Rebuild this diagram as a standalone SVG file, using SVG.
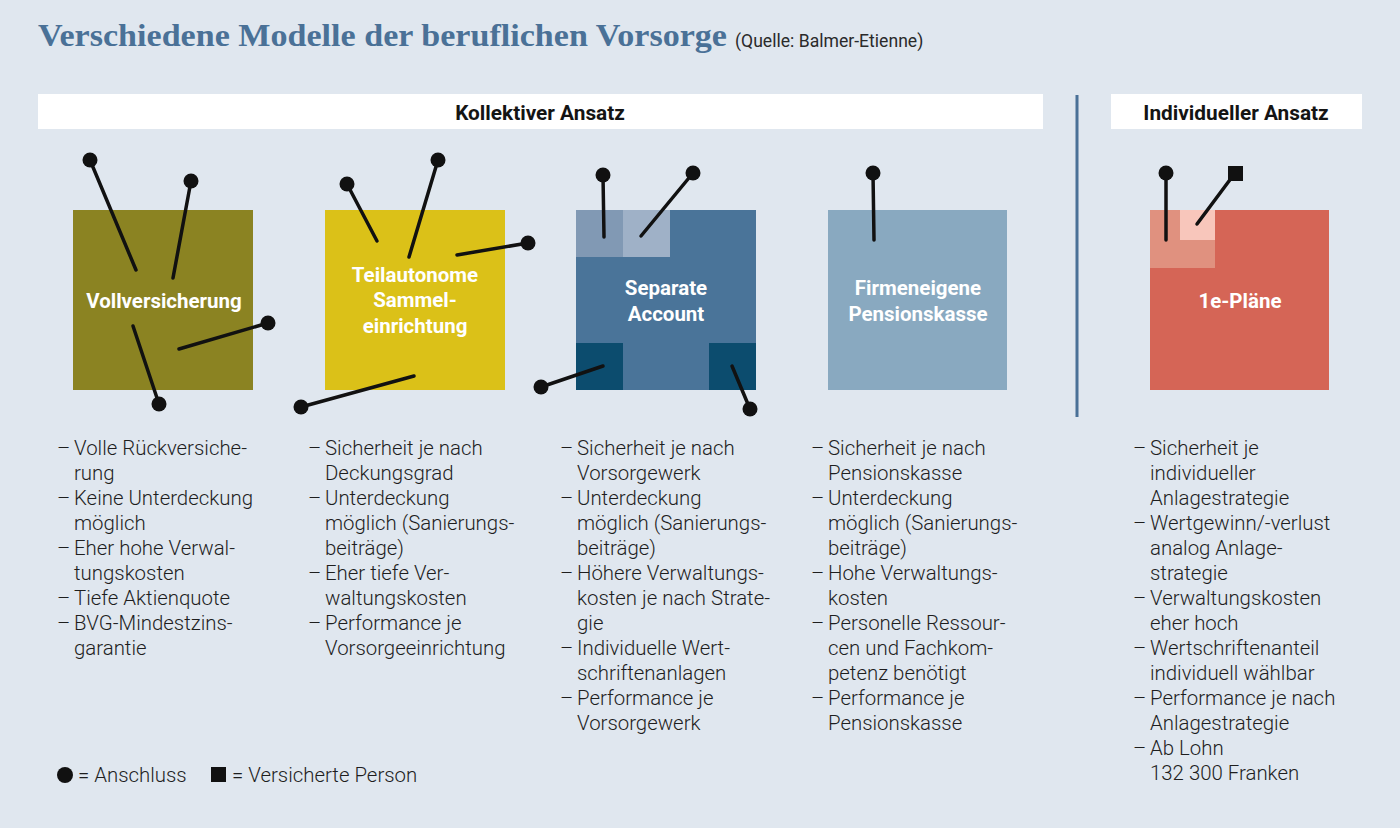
<svg xmlns="http://www.w3.org/2000/svg" width="1400" height="828" viewBox="0 0 1400 828">
<style>
.t{font-family:"Liberation Serif","DejaVu Serif",serif;font-weight:bold;fill:#4a7197}
.src{font-family:Roboto,"Liberation Sans",sans-serif;font-size:17.6px;fill:#2a2a2a}
.hd{font-family:Roboto,"Liberation Sans",sans-serif;font-weight:bold;font-size:20.8px;fill:#141414;text-anchor:middle}
.lb{font-family:Roboto,"Liberation Sans",sans-serif;font-weight:bold;font-size:20.5px;fill:#ffffff;text-anchor:middle}
.li{font-family:Roboto,"Liberation Sans",sans-serif;font-weight:300;font-size:20.4px;fill:#1e1e1e}
.pin{stroke:#111;stroke-width:3.5;stroke-linecap:round}
.dot{fill:#111}
</style>
<rect width="1400" height="828" fill="#e0e7ef"/>
<text class="t" x="38" y="46" font-size="31" textLength="689" lengthAdjust="spacingAndGlyphs">Verschiedene Modelle der beruflichen Vorsorge</text>
<text class="src" x="735" y="47">(Quelle: Balmer-Etienne)</text>

<g id="header-kollektiv">
<rect x="38" y="94" width="1005" height="35" fill="#ffffff"/>
<text class="hd" x="540" y="120">Kollektiver Ansatz</text>
</g>
<g id="header-individuell">
<rect x="1111" y="94" width="251" height="35" fill="#ffffff"/>
<text class="hd" x="1236" y="120">Individueller Ansatz</text>
</g>
<line x1="1077" y1="95" x2="1077" y2="417" stroke="#4a7197" stroke-width="3"/>

<g id="node-vollversicherung">
<rect x="73" y="210" width="180" height="180" fill="#8b8322"/>
<text class="lb" x="164" y="308">Vollversicherung</text>
</g>
<g id="node-teilautonome">
<rect x="325" y="210" width="180" height="180" fill="#dbc118"/>
<text class="lb" x="415" y="282">Teilautonome</text>
<text class="lb" x="415" y="307">Sammel-</text>
<text class="lb" x="415" y="333">einrichtung</text>
</g>
<g id="node-separate">
<rect x="576" y="210" width="180" height="180" fill="#4a7499"/>
<rect x="576" y="210" width="47" height="47" fill="#8199b4"/>
<rect x="623" y="210" width="47" height="47" fill="#9fb1c7"/>
<rect x="576" y="343" width="47" height="47" fill="#0c4c6e"/>
<rect x="709" y="343" width="47" height="47" fill="#0c4c6e"/>
<text class="lb" x="666" y="295">Separate</text>
<text class="lb" x="666" y="321">Account</text>
</g>
<g id="node-firmeneigene">
<rect x="828" y="210" width="179" height="180" fill="#89a9c0"/>
<text class="lb" x="918" y="295">Firmeneigene</text>
<text class="lb" x="918" y="321">Pensionskasse</text>
</g>
<g id="node-1e">
<rect x="1150" y="210" width="179" height="180" fill="#d56556"/>
<rect x="1150" y="210" width="65" height="58" fill="#e0917f"/>
<rect x="1180" y="210" width="35" height="30" fill="#f8c6bb"/>
<text class="lb" x="1240" y="308">1e-Pläne</text>
</g>

<g id="connectors">
<line class="pin" x1="90" y1="160" x2="136" y2="270"/>
<line class="pin" x1="191" y1="181" x2="173" y2="278"/>
<line class="pin" x1="268" y1="323" x2="179" y2="349"/>
<line class="pin" x1="159" y1="404" x2="133" y2="326"/>
<line class="pin" x1="347" y1="184" x2="377" y2="241"/>
<line class="pin" x1="438" y1="160" x2="409" y2="257"/>
<line class="pin" x1="528" y1="243" x2="457" y2="255"/>
<line class="pin" x1="301" y1="407" x2="414" y2="376"/>
<line class="pin" x1="603" y1="175" x2="604" y2="237"/>
<line class="pin" x1="693" y1="173" x2="641" y2="236"/>
<line class="pin" x1="541" y1="387" x2="603" y2="366"/>
<line class="pin" x1="750" y1="409" x2="732" y2="366"/>
<line class="pin" x1="873" y1="173" x2="874" y2="240"/>
<line class="pin" x1="1166" y1="173" x2="1166" y2="240"/>
<line class="pin" x1="1235" y1="173" x2="1197" y2="224"/>
<g class="dot">
<circle cx="90" cy="160" r="7.5"/>
<circle cx="191" cy="181" r="7.5"/>
<circle cx="268" cy="323" r="7.5"/>
<circle cx="159" cy="404" r="7.5"/>
<circle cx="347" cy="184" r="7.5"/>
<circle cx="438" cy="160" r="7.5"/>
<circle cx="528" cy="243" r="7.5"/>
<circle cx="301" cy="407" r="7.5"/>
<circle cx="603" cy="175" r="7.5"/>
<circle cx="693" cy="173" r="7.5"/>
<circle cx="541" cy="387" r="7.5"/>
<circle cx="750" cy="409" r="7.5"/>
<circle cx="873" cy="173" r="7.5"/>
<circle cx="1166" cy="173" r="7.5"/>
<rect x="1228" y="166" width="15" height="15"/>
</g>
</g>

<g id="list-1" class="li">
<text x="57" y="455">–</text><text x="74" y="455">Volle Rückversiche-</text>
<text x="74" y="480">rung</text>
<text x="57" y="505">–</text><text x="74" y="505">Keine Unterdeckung</text>
<text x="74" y="530">möglich</text>
<text x="57" y="555">–</text><text x="74" y="555">Eher hohe Verwal-</text>
<text x="74" y="580">tungskosten</text>
<text x="57" y="605">–</text><text x="74" y="605">Tiefe Aktienquote</text>
<text x="57" y="630">–</text><text x="74" y="630">BVG-Mindestzins-</text>
<text x="74" y="655">garantie</text>
</g>
<g id="list-2" class="li">
<text x="308" y="455">–</text><text x="325" y="455">Sicherheit je nach</text>
<text x="325" y="480">Deckungsgrad</text>
<text x="308" y="505">–</text><text x="325" y="505">Unterdeckung</text>
<text x="325" y="530">möglich (Sanierungs-</text>
<text x="325" y="555">beiträge)</text>
<text x="308" y="580">–</text><text x="325" y="580">Eher tiefe Ver-</text>
<text x="325" y="605">waltungskosten</text>
<text x="308" y="630">–</text><text x="325" y="630">Performance je</text>
<text x="325" y="655">Vorsorgeeinrichtung</text>
</g>
<g id="list-3" class="li">
<text x="560" y="455">–</text><text x="577" y="455">Sicherheit je nach</text>
<text x="577" y="480">Vorsorgewerk</text>
<text x="560" y="505">–</text><text x="577" y="505">Unterdeckung</text>
<text x="577" y="530">möglich (Sanierungs-</text>
<text x="577" y="555">beiträge)</text>
<text x="560" y="580">–</text><text x="577" y="580">Höhere Verwaltungs-</text>
<text x="577" y="605">kosten je nach Strate-</text>
<text x="577" y="630">gie</text>
<text x="560" y="655">–</text><text x="577" y="655">Individuelle Wert-</text>
<text x="577" y="680">schriftenanlagen</text>
<text x="560" y="705">–</text><text x="577" y="705">Performance je</text>
<text x="577" y="730">Vorsorgewerk</text>
</g>
<g id="list-4" class="li">
<text x="811" y="455">–</text><text x="828" y="455">Sicherheit je nach</text>
<text x="828" y="480">Pensionskasse</text>
<text x="811" y="505">–</text><text x="828" y="505">Unterdeckung</text>
<text x="828" y="530">möglich (Sanierungs-</text>
<text x="828" y="555">beiträge)</text>
<text x="811" y="580">–</text><text x="828" y="580">Hohe Verwaltungs-</text>
<text x="828" y="605">kosten</text>
<text x="811" y="630">–</text><text x="828" y="630">Personelle Ressour-</text>
<text x="828" y="655">cen und Fachkom-</text>
<text x="828" y="680">petenz benötigt</text>
<text x="811" y="705">–</text><text x="828" y="705">Performance je</text>
<text x="828" y="730">Pensionskasse</text>
</g>
<g id="list-5" class="li">
<text x="1133" y="455">–</text><text x="1150" y="455">Sicherheit je</text>
<text x="1150" y="480">individueller</text>
<text x="1150" y="505">Anlagestrategie</text>
<text x="1133" y="530">–</text><text x="1150" y="530">Wertgewinn/-verlust</text>
<text x="1150" y="555">analog Anlage-</text>
<text x="1150" y="580">strategie</text>
<text x="1133" y="605">–</text><text x="1150" y="605">Verwaltungskosten</text>
<text x="1150" y="630">eher hoch</text>
<text x="1133" y="655">–</text><text x="1150" y="655">Wertschriftenanteil</text>
<text x="1150" y="680">individuell wählbar</text>
<text x="1133" y="705">–</text><text x="1150" y="705">Performance je nach</text>
<text x="1150" y="730">Anlagestrategie</text>
<text x="1133" y="755">–</text><text x="1150" y="755">Ab Lohn</text>
<text x="1150" y="780">132 300 Franken</text>
</g>

<g id="legend">
<circle cx="65" cy="775" r="8" fill="#111"/>
<text class="li" x="78" y="782">= Anschluss</text>
<rect x="211" y="767" width="15" height="15" fill="#111"/>
<text class="li" x="232" y="782">= Versicherte Person</text>
</g>
</svg>
